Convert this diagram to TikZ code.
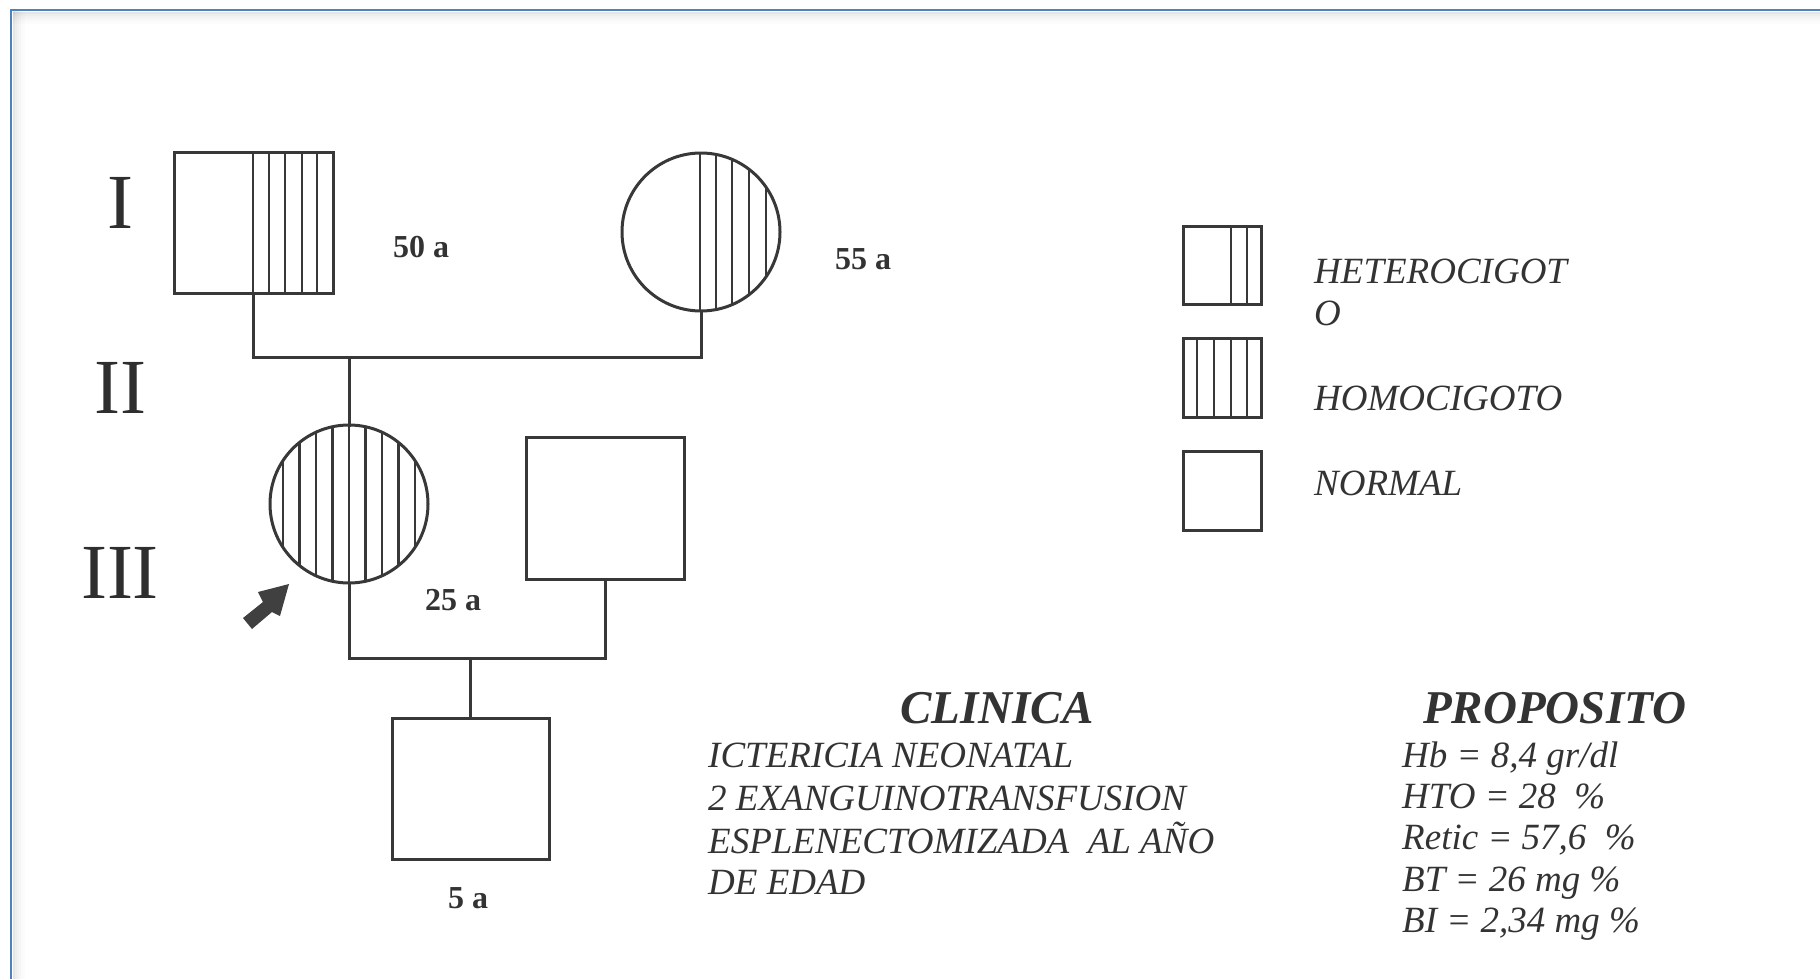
\documentclass[tikz,border=0pt]{standalone}
\usepackage{fontspec}
\setmainfont{Liberation Serif}
\begin{document}
\begin{tikzpicture}[x=1bp,y=-1bp,
  ln/.style={line width=3bp, draw=black!78, line cap=rect},
  hatch/.style={line width=2.7bp, draw=black!78},
  sq/.style={ln, rectangle, inner sep=0pt, outer sep=0pt},
  circ/.style={ln, circle, inner sep=0pt, outer sep=0pt, minimum size=158bp},
  age/.style={anchor=base west, inner sep=0pt, font=\fontsize{32bp}{36bp}\selectfont\bfseries, text=black!80},
  gen/.style={anchor=base, inner sep=0pt, font=\fontsize{78bp}{90bp}\selectfont, text=black!82},
  txt/.style={anchor=base west, inner sep=0pt, font=\fontsize{37bp}{44bp}\selectfont\itshape, text=black!80},
  ttl/.style={anchor=base west, inner sep=0pt, font=\fontsize{47bp}{54bp}\selectfont\bfseries\itshape, text=black!80}
]
\useasboundingbox (0,0) rectangle (1820,979);
\fill[white] (0,0) rectangle (1820,979);
% frame
\foreach \i/\o in {1/0.10,2/0.07,3/0.05,4/0.035,5/0.02,6/0.01}{
  \draw[black, opacity=\o, line width=2bp] (13,{11+2*\i}) -- (1820,{11+2*\i});
  \draw[black, opacity=\o, line width=2bp] ({12+2*\i},11) -- ({12+2*\i},979);
}
\draw[line width=2.6bp, draw={rgb,255:red,79;green,129;blue,189}] (11,979) -- (11,10) -- (1820,10);

% generation labels
\node[gen] (gI) at (120,228) {I};
\node[gen] (gII) at (120,413) {II};
\node[gen] (gIII) at (120,598) {III};

% generation I
\node[sq, minimum width=159bp, minimum height=141bp] (gf) at (253.5,222.5) {};
\foreach \x in {253,269,285,302,317} \draw[hatch] (\x,152) -- (\x,293);
\node[circ] (gm) at (701,232) {};
\begin{scope}
  \clip (701,232) circle (79);
  \foreach \x in {700,716,732,749,766} \draw[hatch] (\x,150) -- (\x,314);
\end{scope}
\node[age] (a50) at (393,257) {50 a};
\node[age] (a55) at (835,269) {55 a};

\coordinate (m1) at (0,357);
\draw[ln] (gf.south) -- (gf.south |- m1) -- (gm.south |- m1) -- (gm.south);

% generation II
\node[circ] (pb) at (349,504) {};
\begin{scope}
  \clip (349,504) circle (79);
  \foreach \x in {283,299.5,316,332.5,349,365.5,382,398.5,415} \draw[hatch] (\x,422) -- (\x,586);
\end{scope}
\draw[ln] (pb.north |- m1) -- (pb.north);
\node[sq, minimum width=158bp, minimum height=142bp] (sp) at (605,508) {};
\node[age] (a25) at (425,610) {25 a};

\coordinate (m2) at (0,658);
\draw[ln] (pb.south) -- (pb.south |- m2) -- (sp.south |- m2) -- (sp.south);

% proband arrow
\fill[black!75] (289,584) -- (258,592) -- (263,602) -- (243,618) -- (252,629) -- (272,612) -- (280,616) -- cycle;

% generation III
\node[sq, minimum width=157bp, minimum height=141bp] (ch) at (470.5,788.5) {};
\draw[ln] (ch.north |- m2) -- (ch.north);
\node[age] (a5) at (448,908) {5 a};

% legend
\node[sq, minimum width=78bp, minimum height=78bp] (lhet) at (1222,265) {};
\foreach \x in {1231,1247} \draw[hatch] (\x,226) -- (\x,304);
\node[sq, minimum width=78bp, minimum height=79bp] (lhom) at (1222,377.5) {};
\foreach \x in {1197,1214,1231,1247} \draw[hatch] (\x,338) -- (\x,417);
\node[sq, minimum width=78bp, minimum height=79bp] (lnor) at (1222,490.5) {};
\node[txt] (thet) at (1314,283) {HETEROCIGOT};
\node[txt] (thet2) at (1314,325) {O};
\node[txt] (thom) at (1314,410) {HOMOCIGOTO};
\node[txt] (tnor) at (1314,495) {NORMAL};

% clinica
\node[ttl] (clin) at (900,723) {CLINICA};
\node[txt] (c1) at (708,767) {ICTERICIA NEONATAL};
\node[txt] (c2) at (708,810) {2 EXANGUINOTRANSFUSION};
\node[txt] (c3) at (708,853) {ESPLENECTOMIZADA\ \ AL AÑO};
\node[txt] (c4) at (708,894) {DE EDAD};

% proposito
\node[ttl] (prop) at (1423,723) {PROPOSITO};
\node[txt] (p1) at (1402,767) {Hb = 8,4 gr/dl};
\node[txt] (p2) at (1402,808) {HTO = 28\ \ \%};
\node[txt] (p3) at (1402,849) {Retic = 57,6\ \ \%};
\node[txt] (p4) at (1402,891) {BT = 26 mg \%};
\node[txt] (p5) at (1402,932) {BI = 2,34 mg \%};
\end{tikzpicture}
\end{document}
